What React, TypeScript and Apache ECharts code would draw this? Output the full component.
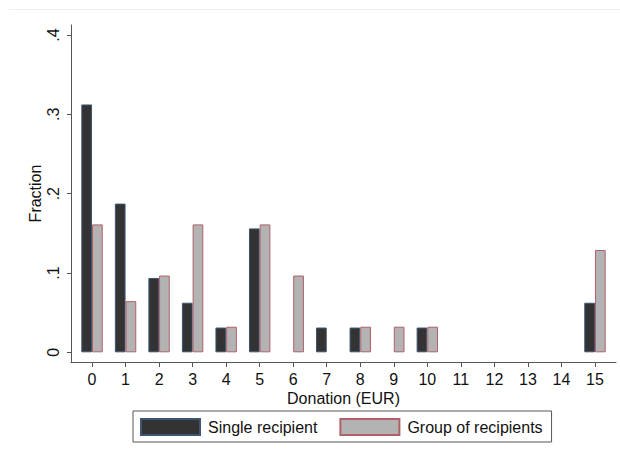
import React, { useEffect, useRef } from "react";
import * as echarts from "echarts";

const donations = [0, 1, 2, 3, 4, 5, 6, 7, 8, 9, 10, 11, 12, 13, 14, 15];
const singleRecipient = [0.3125, 0.1875, 0.09375, 0.0625, 0.03125, 0.15625, 0, 0.03125, 0.03125, 0, 0.03125, 0, 0, 0, 0, 0.0625];
const groupRecipients = [0.1613, 0.0645, 0.0968, 0.1613, 0.0323, 0.1613, 0.0968, 0, 0.0323, 0.0323, 0.0323, 0, 0, 0, 0, 0.129];
const yTicks = [0, 0.1, 0.2, 0.3, 0.4];

const FONT = "'Liberation Sans', Arial, sans-serif";

export default function App() {
  const ref = useRef<HTMLDivElement>(null);
  useEffect(() => {
    const chart = echarts.init(ref.current!, null, { renderer: "svg" });
    const fmtY = (v: number) => (v === 0 ? "0" : String(Math.round(v * 10) / 10).replace(/^0/, ""));
    const toPairs = (vals: number[]) =>
      donations.map((d, i) => [d, vals[i]]).filter((p) => p[1] > 0);
    chart.setOption({
      animation: false,
      backgroundColor: "#ffffff",
      textStyle: { fontFamily: FONT },
      graphic: [
        { type: "line", shape: { x1: 9, y1: 9.5, x2: 620, y2: 9.5 }, style: { stroke: "#efefef", lineWidth: 1 } },
      ],
      grid: { left: 71, right: 4, top: 25, bottom: 94 },
      legend: {
        bottom: 14,
        left: 133,
        orient: "horizontal",
        itemWidth: 59,
        itemHeight: 16,
        itemGap: 22,
        padding: [7, 9, 6, 7],
        borderColor: "#555555",
        borderWidth: 1,
        borderRadius: 0,
        textStyle: { fontSize: 16, color: "#111", fontFamily: FONT, padding: [0, 0, 0, 3] },
        data: [
          { name: "Single recipient", icon: "rect" },
          { name: "Group of recipients", icon: "rect" },
        ],
      },
      xAxis: {
        type: "value",
        min: -0.627,
        max: 15.627,
        name: "Donation (EUR)",
        nameLocation: "middle",
        nameGap: 28,
        nameMoveOverlap: false,
        nameTextStyle: { fontSize: 16, color: "#111", fontFamily: FONT, lineHeight: 16 },
        splitLine: { show: false },
        axisLine: { show: true, onZero: false, lineStyle: { color: "#555", width: 1 } },
        axisTick: { show: true, length: 5, lineStyle: { color: "#555" }, customValues: donations },
        axisLabel: { fontSize: 16, color: "#111", margin: 9, lineHeight: 16, customValues: donations, formatter: (v: number) => String(v) },
      },
      yAxis: {
        type: "value",
        min: -0.0122,
        max: 0.4127,
        name: "Fraction",
        nameLocation: "middle",
        nameGap: 28,
        nameMoveOverlap: false,
        nameTextStyle: { fontSize: 16, color: "#111", fontFamily: FONT },
        splitLine: { show: false },
        axisLine: { show: true, onZero: false, lineStyle: { color: "#555", width: 1 } },
        axisTick: { show: true, length: 4, lineStyle: { color: "#555" }, customValues: yTicks },
        axisLabel: { fontSize: 16, color: "#111", rotate: 90, margin: 10, customValues: yTicks, formatter: fmtY },
      },
      series: [
        {
          name: "Single recipient",
          type: "bar",
          barWidth: 10.7,
          barGap: "0%",
          data: toPairs(singleRecipient),
          itemStyle: { color: "#333333", borderColor: "#3d5570", borderWidth: 1 },
        },
        {
          name: "Group of recipients",
          type: "bar",
          barWidth: 10.7,
          barGap: "0%",
          data: toPairs(groupRecipients),
          itemStyle: { color: "#b3b3b3", borderColor: "#b06068", borderWidth: 1 },
        },
      ],
    });
    return () => chart.dispose();
  }, []);
  return <div ref={ref} style={{ position: "absolute", left: 0, top: 0, width: 620, height: 456 }} />;
}
